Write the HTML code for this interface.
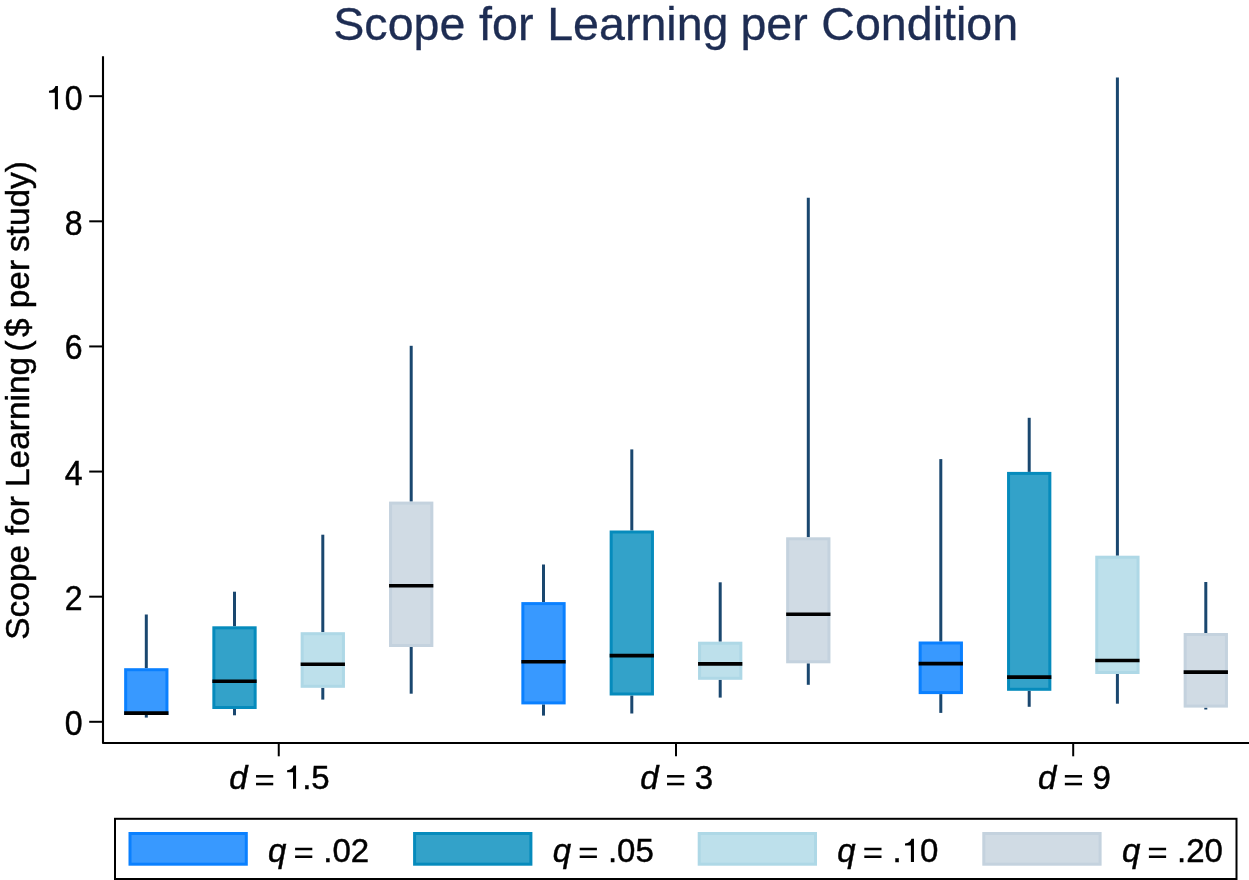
<!DOCTYPE html>
<html><head><meta charset="utf-8"><title>Scope for Learning per Condition</title>
<style>
html,body{margin:0;padding:0;background:#fff;}
body{width:1249px;height:880px;overflow:hidden;position:relative;font-family:"Liberation Sans",sans-serif;}
svg{position:absolute;left:0;top:0;will-change:transform;}
text{font-family:"Liberation Sans",sans-serif;}
.k{fill:#000;stroke:#000;stroke-width:0.45;font-size:33px;}
.t{fill:#1e2d53;stroke:#1e2d53;stroke-width:0.3;font-size:46.6px;}
.h{fill:none;stroke:none;}
</style></head><body>
<svg width="1249" height="880" viewBox="0 0 1249 880">
<defs>
<path id="one" d="M5.9 -23.3 H8.97 V0 H5.9 V-16.45 H0 V-18.5 Q5.4 -19.3 6.5 -23.3 Z"/>
<g id="eq"><rect x="0" y="-14.25" width="17.2" height="2.5"/><rect x="0" y="-6.5" width="17.2" height="2.5"/></g>
</defs>
<rect x="0" y="0" width="1249" height="880" fill="#ffffff"/>

<text class="t" y="40.2"><tspan x="333.30">Scope</tspan><tspan x="479.10">for</tspan><tspan x="547.20">Learning</tspan><tspan x="740.40">per</tspan><tspan x="821.30">Condition</tspan></text>
<path d="M103 56.2 V743 H1250" fill="none" stroke="#000" stroke-width="2.1" stroke-linejoin="round"/>
<line x1="89.2" x2="103" y1="721.80" y2="721.80" stroke="#000" stroke-width="2"/>
<text class="k" transform="translate(82.5 734.80) scale(0.97 1.04)" text-anchor="end">0</text>
<line x1="89.2" x2="103" y1="596.68" y2="596.68" stroke="#000" stroke-width="2"/>
<text class="k" transform="translate(82.5 609.68) scale(0.97 1.04)" text-anchor="end">2</text>
<line x1="89.2" x2="103" y1="471.56" y2="471.56" stroke="#000" stroke-width="2"/>
<text class="k" transform="translate(82.5 484.56) scale(0.97 1.04)" text-anchor="end">4</text>
<line x1="89.2" x2="103" y1="346.44" y2="346.44" stroke="#000" stroke-width="2"/>
<text class="k" transform="translate(82.5 359.44) scale(0.97 1.04)" text-anchor="end">6</text>
<line x1="89.2" x2="103" y1="221.32" y2="221.32" stroke="#000" stroke-width="2"/>
<text class="k" transform="translate(82.5 234.67) scale(0.97 1.04)" text-anchor="end">8</text>
<line x1="89.2" x2="103" y1="96.20" y2="96.20" stroke="#000" stroke-width="2"/>
<text class="k" transform="translate(82.5 109.55) scale(0.97 1.04)" text-anchor="end"><tspan class="h">1</tspan>0</text>
<use href="#one" x="48.97" y="109.25"/>
<line x1="278.75" x2="278.75" y1="743" y2="756.3" stroke="#000" stroke-width="2"/>
<text class="k" x="229.13" y="788.8" font-style="italic">d</text>
<use href="#eq" x="256.03" y="789.3"/>
<text class="k" x="283.80" y="788.8"><tspan class="h">1</tspan>.5</text>
<use href="#one" x="287.10" y="788.8"/>
<line x1="676" x2="676" y1="743" y2="756.3" stroke="#000" stroke-width="2"/>
<text class="k" x="640.14" y="788.8" font-style="italic">d</text>
<use href="#eq" x="667.04" y="789.3"/>
<text class="k" x="694.81" y="788.8">3</text>
<line x1="1073.2" x2="1073.2" y1="743" y2="756.3" stroke="#000" stroke-width="2"/>
<text class="k" x="1037.94" y="788.8" font-style="italic">d</text>
<use href="#eq" x="1064.84" y="789.3"/>
<text class="k" x="1092.61" y="788.8">9</text>
<text class="k" style="font-size:33.45px" transform="translate(29 639.70) rotate(-90)">Scope</text>
<text class="k" style="font-size:33.45px" transform="translate(29 535.20) rotate(-90)">for</text>
<text class="k" style="font-size:33.45px" transform="translate(29 487.00) rotate(-90)">Learning</text>
<text class="k" style="font-size:33.45px" transform="translate(29 351.50) rotate(-90)">(</text>
<text class="k" style="font-size:33.45px" transform="translate(29 337.00) rotate(-90)">$</text>
<text class="k" style="font-size:33.45px" transform="translate(29 308.30) rotate(-90)">per</text>
<text class="k" style="font-size:33.45px" transform="translate(29 252.10) rotate(-90)">study)</text>
<line x1="146.3" x2="146.3" y1="614.5" y2="668.2" stroke="#1a476f" stroke-width="3"/>
<line x1="146.3" x2="146.3" y1="715.0" y2="717.6" stroke="#1a476f" stroke-width="3"/>
<rect x="125.65" y="669.70" width="41.30" height="43.80" fill="#3899ff" stroke="#0a80ff" stroke-width="3"/>
<line x1="124.15" x2="168.45" y1="713.1" y2="713.1" stroke="#000" stroke-width="3.6"/>
<line x1="234.5" x2="234.5" y1="591.7" y2="626.3" stroke="#1a476f" stroke-width="3"/>
<line x1="234.5" x2="234.5" y1="709.0" y2="715.3" stroke="#1a476f" stroke-width="3"/>
<rect x="213.85" y="627.80" width="41.30" height="79.70" fill="#33a2c9" stroke="#068bbc" stroke-width="3"/>
<line x1="212.35" x2="256.65" y1="681.3" y2="681.3" stroke="#000" stroke-width="3.6"/>
<line x1="322.8" x2="322.8" y1="534.7" y2="632.2" stroke="#1a476f" stroke-width="3"/>
<line x1="322.8" x2="322.8" y1="687.8" y2="699.6" stroke="#1a476f" stroke-width="3"/>
<rect x="302.15" y="633.70" width="41.30" height="52.60" fill="#bde0eb" stroke="#aed8e6" stroke-width="3"/>
<line x1="300.65" x2="344.95" y1="664.2" y2="664.2" stroke="#000" stroke-width="3.6"/>
<line x1="411.2" x2="411.2" y1="345.8" y2="501.6" stroke="#1a476f" stroke-width="3"/>
<line x1="411.2" x2="411.2" y1="647.0" y2="693.7" stroke="#1a476f" stroke-width="3"/>
<rect x="390.55" y="503.10" width="41.30" height="142.40" fill="#d0dbe4" stroke="#c4d2de" stroke-width="3"/>
<line x1="389.05" x2="433.35" y1="585.8" y2="585.8" stroke="#000" stroke-width="3.6"/>
<line x1="543.5" x2="543.5" y1="564.5" y2="602.1" stroke="#1a476f" stroke-width="3"/>
<line x1="543.5" x2="543.5" y1="704.4" y2="715.6" stroke="#1a476f" stroke-width="3"/>
<rect x="522.85" y="603.60" width="41.30" height="99.30" fill="#3899ff" stroke="#0a80ff" stroke-width="3"/>
<line x1="521.35" x2="565.65" y1="661.8" y2="661.8" stroke="#000" stroke-width="3.6"/>
<line x1="631.8" x2="631.8" y1="449.4" y2="530.5" stroke="#1a476f" stroke-width="3"/>
<line x1="631.8" x2="631.8" y1="695.5" y2="713.5" stroke="#1a476f" stroke-width="3"/>
<rect x="611.15" y="532.00" width="41.30" height="162.00" fill="#33a2c9" stroke="#068bbc" stroke-width="3"/>
<line x1="609.65" x2="653.95" y1="655.6" y2="655.6" stroke="#000" stroke-width="3.6"/>
<line x1="720.2" x2="720.2" y1="582.3" y2="641.7" stroke="#1a476f" stroke-width="3"/>
<line x1="720.2" x2="720.2" y1="679.8" y2="697.6" stroke="#1a476f" stroke-width="3"/>
<rect x="699.55" y="643.20" width="41.30" height="35.10" fill="#bde0eb" stroke="#aed8e6" stroke-width="3"/>
<line x1="698.05" x2="742.35" y1="663.9" y2="663.9" stroke="#000" stroke-width="3.6"/>
<line x1="808.3" x2="808.3" y1="197.8" y2="537.3" stroke="#1a476f" stroke-width="3"/>
<line x1="808.3" x2="808.3" y1="663.3" y2="684.8" stroke="#1a476f" stroke-width="3"/>
<rect x="787.65" y="538.80" width="41.30" height="123.00" fill="#d0dbe4" stroke="#c4d2de" stroke-width="3"/>
<line x1="786.15" x2="830.45" y1="614.2" y2="614.2" stroke="#000" stroke-width="3.6"/>
<line x1="940.8" x2="940.8" y1="459.1" y2="641.5" stroke="#1a476f" stroke-width="3"/>
<line x1="940.8" x2="940.8" y1="694.1" y2="712.9" stroke="#1a476f" stroke-width="3"/>
<rect x="920.15" y="643.00" width="41.30" height="49.60" fill="#3899ff" stroke="#0a80ff" stroke-width="3"/>
<line x1="918.65" x2="962.95" y1="663.6" y2="663.6" stroke="#000" stroke-width="3.6"/>
<line x1="1029.2" x2="1029.2" y1="417.8" y2="471.9" stroke="#1a476f" stroke-width="3"/>
<line x1="1029.2" x2="1029.2" y1="690.8" y2="706.8" stroke="#1a476f" stroke-width="3"/>
<rect x="1008.55" y="473.40" width="41.30" height="215.90" fill="#33a2c9" stroke="#068bbc" stroke-width="3"/>
<line x1="1007.05" x2="1051.35" y1="677.1" y2="677.1" stroke="#000" stroke-width="3.6"/>
<line x1="1117.4" x2="1117.4" y1="77.5" y2="555.7" stroke="#1a476f" stroke-width="3"/>
<line x1="1117.4" x2="1117.4" y1="674.0" y2="703.7" stroke="#1a476f" stroke-width="3"/>
<rect x="1096.75" y="557.20" width="41.30" height="115.30" fill="#bde0eb" stroke="#aed8e6" stroke-width="3"/>
<line x1="1095.25" x2="1139.55" y1="660.5" y2="660.5" stroke="#000" stroke-width="3.6"/>
<line x1="1205.8" x2="1205.8" y1="582.0" y2="633.0" stroke="#1a476f" stroke-width="3"/>
<line x1="1205.8" x2="1205.8" y1="707.6" y2="709.5" stroke="#1a476f" stroke-width="3"/>
<rect x="1185.15" y="634.50" width="41.30" height="71.60" fill="#d0dbe4" stroke="#c4d2de" stroke-width="3"/>
<line x1="1183.65" x2="1227.95" y1="672.1" y2="672.1" stroke="#000" stroke-width="3.6"/>
<rect x="115" y="818.8" width="1121.5" height="60.2" fill="#fff" stroke="#000" stroke-width="2"/>
<rect x="130.00" y="833.5" width="116.30" height="30.7" fill="#3899ff" stroke="#0a80ff" stroke-width="3"/>
<text class="k" x="268.10" y="862.0" font-style="italic">q</text>
<use href="#eq" x="295.10" y="862.0"/>
<text class="k" x="323.30" y="862.0">.02</text>
<rect x="414.60" y="833.5" width="116.30" height="30.7" fill="#33a2c9" stroke="#068bbc" stroke-width="3"/>
<text class="k" x="552.70" y="862.0" font-style="italic">q</text>
<use href="#eq" x="579.70" y="862.0"/>
<text class="k" x="607.90" y="862.0">.05</text>
<rect x="699.20" y="833.5" width="116.30" height="30.7" fill="#bde0eb" stroke="#aed8e6" stroke-width="3"/>
<text class="k" x="837.30" y="862.0" font-style="italic">q</text>
<use href="#eq" x="864.30" y="862.0"/>
<text class="k" x="892.50" y="862.0">.<tspan class="h">1</tspan>0</text>
<use href="#one" x="905.00" y="862.0"/>
<rect x="983.80" y="833.5" width="116.30" height="30.7" fill="#d0dbe4" stroke="#c4d2de" stroke-width="3"/>
<text class="k" x="1121.90" y="862.0" font-style="italic">q</text>
<use href="#eq" x="1148.90" y="862.0"/>
<text class="k" x="1177.10" y="862.0">.20</text>
</svg></body></html>
